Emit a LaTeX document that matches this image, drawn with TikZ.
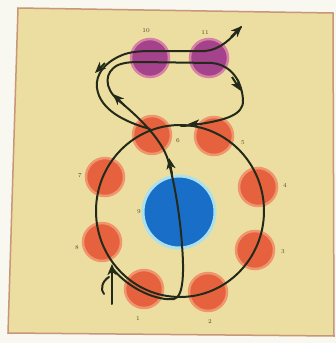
\documentclass[tikz,border=0pt]{standalone}
\usetikzlibrary{arrows.meta}
\definecolor{paper}{RGB}{248,247,240}
\definecolor{bgyellow}{RGB}{236,222,160}
\definecolor{framecol}{RGB}{200,150,120}
\definecolor{orangefill}{RGB}{230,98,62}
\definecolor{orangehalo}{RGB}{240,150,110}
\definecolor{purplefill}{RGB}{165,66,140}
\definecolor{purplehalo}{RGB}{215,130,165}
\definecolor{bluefill}{RGB}{25,110,200}
\definecolor{bluehalo}{RGB}{170,225,235}
\definecolor{trajcol}{RGB}{36,42,26}
\definecolor{lblcol}{RGB}{70,75,40}
\tikzset{
  orb/.style={circle, inner sep=0pt, minimum size=38pt, line width=2.5pt},
  orangeorb/.style={orb, fill=orangefill, draw=orangehalo},
  purpleorb/.style={orb, fill=purplefill, draw=purplehalo},
  blueorb/.style={circle, inner sep=0pt, minimum size=72pt, line width=3pt, fill=bluefill, draw=bluehalo},
  lbl/.style={text=lblcol, font=\fontsize{6}{7}\selectfont, inner sep=0pt},
  traj/.style={draw=trajcol, line width=2pt, line cap=round},
  tipmark/.style={draw=trajcol, line width=2pt, -{Stealth[length=11pt,width=9pt,inset=3pt]}}
}
\begin{document}
\begin{tikzpicture}[x=1pt,y=-1pt]
\useasboundingbox (0,0) rectangle (336,343);
\fill[paper] (0,0) rectangle (336,343);
\fill[bgyellow] (18,8) -- (333,13) -- (334,336) -- (8,333) -- cycle;
\draw[framecol, line width=1.5pt] (18,8) -- (333,13) -- (334,336) -- (8,333) -- cycle;

% bodies
\node[orangeorb] (o1) at (144,289) {};
\node[orangeorb] (o2) at (208,292) {};
\node[orangeorb] (o3) at (255,250) {};
\node[orangeorb] (o4) at (258,187) {};
\node[orangeorb] (o5) at (214,136) {};
\node[orangeorb] (o6) at (152,135) {};
\node[orangeorb] (o7) at (105,177) {};
\node[orangeorb] (o8) at (102,242) {};
\node[purpleorb] (p10) at (150,58) {};
\node[purpleorb] (p11) at (209,58) {};
\node[blueorb] (b9) at (179,212) {};

% labels
\node[lbl] (l1) at (138,319) {1};
\node[lbl] (l2) at (210,322) {2};
\node[lbl] (l3) at (283,252) {3};
\node[lbl] (l4) at (285,185) {4};
\node[lbl] (l5) at (243,143) {5};
\node[lbl] (l6) at (178,141) {6};
\node[lbl] (l7) at (80,176) {7};
\node[lbl] (l8) at (77,248) {8};
\node[lbl] (l9) at (139,212) {9};
\node[lbl] (l10) at (146,31) {10};
\node[lbl] (l11) at (205,33) {11};

% key points
\coordinate (start) at (112,304);
\coordinate (join) at (112,268);
\coordinate (bottom) at (174,299);
\coordinate (crossL) at (150,129);
\coordinate (crossR) at (181,126);
\coordinate (exit) at (241,27);

% big orbit
\draw[traj] (180,211) ellipse [x radius=84pt, y radius=86pt];

% approach line and hook
\draw[traj] (start) -- (join);
\draw[traj] (109,277) .. controls (102,281) and (100,290) .. (104,294);

% inner path: bottom, up through centre, upper loop, back to crossing
\draw[traj] (join) .. controls (130,290) and (158,301) .. (bottom)
  .. controls (184,297) and (184,270) .. (182,245)
  .. controls (180,215) and (174,180) .. (168,160)
  .. controls (162,140) and (140,118) .. (118,100)
  .. controls (104,88) and (104,72) .. (118,65)
  .. controls (126,62) and (134,62) .. (140,62)
  -- (212,63)
  .. controls (232,65) and (242,82) .. (243,100)
  .. controls (244,115) and (225,120) .. (200,124)
  .. controls (192,125) and (186,126) .. (crossR);

% outer path: from crossing round the left, over the top, and away
\draw[traj] (crossL) .. controls (125,122) and (100,110) .. (97,88)
  .. controls (95,75) and (105,61) .. (125,54)
  .. controls (135,51) and (145,51) .. (155,51)
  -- (205,51)
  .. controls (220,50) and (232,38) .. (exit);

% arrow heads
\draw[tipmark] (112,278) -- (112,264);
\draw[tipmark] (172,174) -- (169,158);
\draw[tipmark] (125,106) -- (113,94);
\draw[tipmark] (105,63) -- (95,73);
\draw[tipmark] (232,77) -- (241,91);
\draw[tipmark] (231,37) -- (242,26);
\draw[tipmark] (202,124) -- (188,124);
\end{tikzpicture}
\end{document}
